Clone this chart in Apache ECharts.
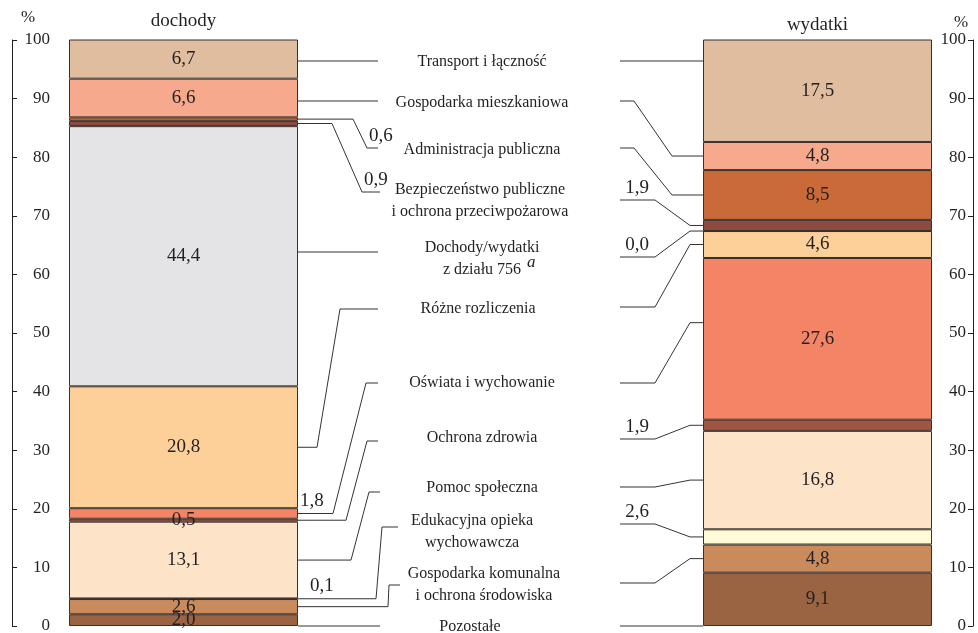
<!DOCTYPE html>
<html><head><meta charset="utf-8">
<script src="https://cdn.jsdelivr.net/npm/echarts@6/dist/echarts.min.js"></script>
<style>html,body{margin:0;padding:0;background:#fff}#c{width:978px;height:633px}</style>
</head><body><div id="c"></div>
<script>
// ---- data (bottom to top of each stacked bar) ----
const categories = ['Pozostałe','Gospodarka komunalna\ni ochrona środowiska','Edukacyjna opieka\nwychowawcza','Pomoc społeczna','Ochrona zdrowia','Oświata i wychowanie','Różne rozliczenia','Dochody/wydatki\nz działu 756','Bezpieczeństwo publiczne\ni ochrona przeciwpożarowa','Administracja publiczna','Gospodarka mieszkaniowa','Transport i łączność'];
const barNames = ['dochody','wydatki'];
const dochody = [2.0,2.6,0.1,13.1,0.5,1.8,20.8,44.4,0.9,0.6,6.6,6.7];
const wydatki = [9.1,4.8,2.6,16.8,1.9,27.6,4.6,0.0,1.9,8.5,4.8,17.5];
const yMin = 0, yMax = 100, yStep = 10;
const colors = ['#9a6442','#c98a5c','#fffbd6','#fde3c8','#a15643','#f48466','#fdd09a','#e4e4e6','#8b4b3e','#c96a38','#f6a98c','#e0bd9f'];

// ---- layout ----
const FONT = 'Liberation Serif';
const TXT = '#231f20';
const GL = {left:69, width:229}, GR = {left:703, width:229}, GT = 40, GH = 586;
const CX = 482;
const labelX = [470,484,472,482,482,482,478,482,480,482,482,482];
const outsideL = [2,5,8,9];
const outsideR = [2,4,7,8];
const labelY = [627,585,532,488,438,383,309,259,201,150,103,62];
const leadL = [
  {ly:626,straight:true,end:380},{k1:388,k2:389,ly:585,end:400},{k1:376,k2:382,ly:527,end:398},
  {k1:351,k2:369,ly:492,end:380},{k1:346,k2:367,ly:441,end:378},{k1:333,k2:366,ly:383,end:378},
  {k1:317,k2:340,ly:309,end:378},{ly:252,straight:true,end:378},{k1:332,k2:362,ly:192,end:380},
  {k1:353,k2:367,ly:148,end:378},{ly:101,straight:true,end:378},{ly:61,straight:true,end:378}
];
const leadR = [
  {ly:626,straight:true},{k1:690,k2:655,ly:583},{k1:690,k2:655,ly:524},{k1:690,k2:655,ly:487},
  {k1:690,k2:655,ly:439},{k1:690,k2:655,ly:383,frac:0.6},{k1:690,k2:655,ly:307},{k1:690,k2:655,ly:257},
  {k1:690,k2:655,ly:200},{k1:672,k2:634,ly:148},{k1:672,k2:634,ly:101},{ly:61,straight:true}
];
const fmt = v => v.toFixed(1).replace('.', ',');

const chart = echarts.init(document.getElementById('c'), null, {renderer:'canvas'});
const series = [];
categories.forEach((c,i)=>{
  [[dochody,0,outsideL],[wydatki,1,outsideR]].forEach(([arr,g,outs])=>{
    series.push({
      type:'bar', name:c, xAxisIndex:g, yAxisIndex:g, stack:'s'+g, barWidth:'100%',
      data:[arr[i]],
      itemStyle:{color:colors[i], borderColor:'#3a2f2a', borderWidth:1},
      label:{show: !outs.includes(i) && arr[i] > 0, position:'inside', formatter:p=>fmt(p.value),
        color:TXT, fontFamily:FONT, fontSize:19},
      emphasis:{disabled:true}, animation:false
    });
  });
});

const yAxisCommon = {type:'value', min:yMin, max:yMax, interval:yStep, splitLine:{show:false},
  axisLine:{show:true, lineStyle:{color:TXT, width:1}}};

chart.setOption({
  animation:false,
  grid:[{left:GL.left, width:GL.width, top:GT, height:GH, outerBoundsMode:'none', containLabel:false},
        {left:GR.left, width:GR.width, top:GT, height:GH, outerBoundsMode:'none', containLabel:false}],
  xAxis:[0,1].map(g=>({gridIndex:g, type:'category', data:[barNames[g]], position:'top',
    axisLine:{show:false}, axisTick:{show:false},
    axisLabel:{fontFamily:FONT, fontSize:19, color:TXT, margin: g===0?9:5}})),
  yAxis:[
    Object.assign({}, yAxisCommon, {gridIndex:0, position:'left', offset:57,
      axisTick:{show:true, inside:true, length:5, lineStyle:{color:TXT}},
      axisLabel:{inside:true, align:'right', margin:38, fontFamily:FONT, fontSize:17, color:TXT}}),
    // right-hand scale: a left-positioned axis pushed beyond the bar, ticks & labels to its left
    Object.assign({}, yAxisCommon, {gridIndex:1, position:'left', offset:-270,
      axisTick:{show:true, inside:false, length:5, lineStyle:{color:TXT}},
      axisLabel:{inside:false, margin:7, fontFamily:FONT, fontSize:17, color:TXT}})
  ],
  series
});

// ---- leader lines & labels, anchored through the axes ----
const g = [];
function segY(arr, i, axis, frac){
  let base = 0; for (let k=0;k<i;k++) base += arr[k];
  const v = base + arr[i]*(frac==null?0.5:frac);
  return chart.convertToPixel({xAxisIndex:axis, yAxisIndex:axis}, [barNames[axis], v])[1];
}
const line = pts => ({type:'polyline', shape:{points:pts}, style:{stroke:'#333', lineWidth:1, fill:null}, silent:true});
const text = (t,x,y,o) => ({type:'text', x, y, style:Object.assign({text:t, fill:TXT, font:'16px "'+FONT+'"', align:'left', verticalAlign:'middle'}, o||{}), silent:true});
const xL = GL.left + GL.width, xR = GR.left, endR = 620;

categories.forEach((c,i)=>{
  const L = leadL[i];
  let by = L.straight ? L.ly : segY(dochody,i,0);
  if (L.straight) g.push(line([[xL,L.ly],[L.end,L.ly]]));
  else g.push(line([[xL,by],[L.k1,by],[L.k2,L.ly],[L.end,L.ly]]));
  const R = leadR[i];
  let ry = R.straight ? R.ly : segY(wydatki,i,1,R.frac);
  if (R.straight) g.push(line([[xR,R.ly],[endR,R.ly]]));
  else g.push(line([[xR,ry],[R.k1,ry],[R.k2,R.ly],[endR,R.ly]]));
  g.push(text(c, labelX[i], labelY[i], {align:'center', lineHeight:22}));
  if (outsideL.includes(i)) {
    if (i===8 || i===9) g.push(text(fmt(dochody[i]), L.k2+2, L.ly-2, {verticalAlign:'bottom', font:'19px "'+FONT+'"'}));
    else g.push(text(fmt(dochody[i]), i===5?300:310, by-3, {verticalAlign:'bottom', font:'19px "'+FONT+'"'}));
  }
  if (outsideR.includes(i)) g.push(text(fmt(wydatki[i]), 637, R.ly-2, {align:'center', verticalAlign:'bottom', font:'19px "'+FONT+'"'}));
});
g.push(text('a', 527, 263, {font:'italic 17px "'+FONT+'"'}));
g.push(text('%', 28, 18, {align:'center', font:'17px "'+FONT+'"'}));
g.push(text('%', 961, 23, {align:'center', font:'17px "'+FONT+'"'}));
chart.setOption({graphic:{elements:g}});
</script>
</body></html>
